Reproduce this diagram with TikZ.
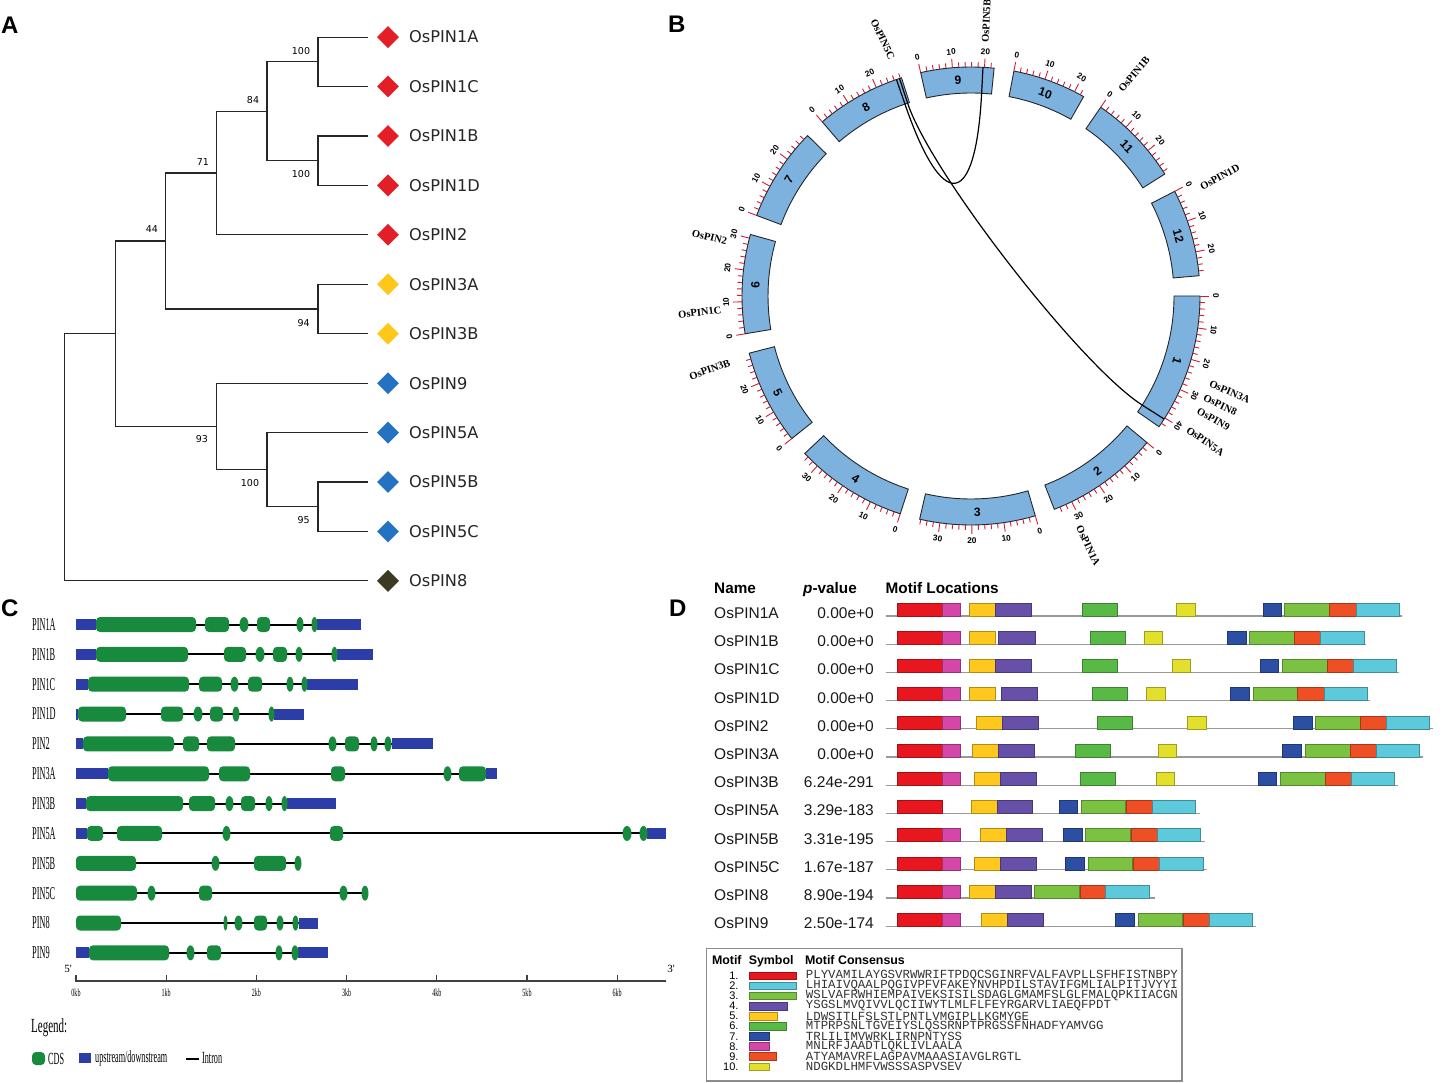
\documentclass[tikz,border=0pt]{standalone}
\usepackage{fontspec}
\usepackage{graphicx}
\setmainfont{Liberation Serif}
\newfontfamily\dejavu{DejaVu Sans}
\newfontfamily\arial{Liberation Sans}
\newfontfamily\cour{Liberation Mono}
\newfontfamily\tnr{Liberation Serif}
\usetikzlibrary{shapes.geometric}
\definecolor{tRed}{HTML}{E41E26}
\definecolor{tGold}{HTML}{FFC719}
\definecolor{tBlue}{HTML}{2473C2}
\definecolor{tOlive}{HTML}{3C3A20}
\definecolor{chrFill}{HTML}{7DB2DE}
\definecolor{tickRed}{HTML}{CC1F3A}
\definecolor{cdsGreen}{HTML}{188A3E}
\definecolor{utrBlue}{HTML}{2D3DA8}
\definecolor{mRed}{HTML}{E8161E}
\definecolor{mCyan}{HTML}{5CCADB}
\definecolor{mLime}{HTML}{7CC242}
\definecolor{mPurp}{HTML}{6650A8}
\definecolor{mGold}{HTML}{FFC81E}
\definecolor{mGreen}{HTML}{58B947}
\definecolor{mBlue}{HTML}{2C4EA3}
\definecolor{mMag}{HTML}{D447A8}
\definecolor{mOrg}{HTML}{EE4F24}
\definecolor{mYel}{HTML}{E2E02C}
\newcommand\cond[2]{\scalebox{#1}[1]{#2}}
\newcommand\generow[6]{%
  \pgfmathsetmacro\gy{624.5+29.85*#1}%
  \node[rowlab] (gr#1) at (32,\gy) {\cond{0.46}{#2}};
  \draw[intron] (#3,\gy) -- (#4,\gy);
  \foreach \xa/\xb in {#5}{\fill[utrBlue] (\xa,\gy-5.5) rectangle (\xb,\gy+5.5);}
  \foreach \xa/\xb in {#6}{%
    \pgfmathtruncatemacro\smallcds{(\xb-\xa)<11}%
    \ifnum\smallcds=1
      \fill[cdsGreen] ({(\xa+\xb)/2},\gy) ellipse [x radius={(\xb-\xa)/2+0.5}, y radius=7.5];
    \else
      \fill[cdsGreen, rounded corners=4pt] (\xa,\gy-7.5) rectangle (\xb,\gy+7.5);
    \fi}%
}
\newcommand\motifrow[5]{%
  \pgfmathsetmacro\ytop{603+28.2*#1}%
  \pgfmathsetmacro\ybot{\ytop+13}%
  \pgfmathsetmacro\ybase{618.5+28.2*#1}%
  \node[dname] (nm#1) at (714,\ybase) {#2};
  \node[dpval] (pv#1) at (874,\ybase) {#3};
  \draw[baseln] (885.5,\ybot) -- (#4,\ybot);
  \foreach \col/\xa/\xb in {#5}{\draw[mbox, fill=\col, draw=\col!70!black] (\xa,\ytop) rectangle (\xb,\ybot);}
}
\begin{document}
\begin{tikzpicture}[x=1pt,y=-1pt,
  treeln/.style={line width=1.1pt, draw=black!85},
  dia/.style={diamond, inner sep=0pt, minimum width=22pt, minimum height=22pt},
  leaflab/.style={anchor=west, inner sep=0pt, font=\dejavu\fontsize{16.2}{18}\selectfont, text=black!85},
  boot/.style={inner sep=0pt, font=\dejavu\fontsize{9.5}{11}\selectfont},
  plet/.style={anchor=base west, inner sep=0pt, font=\arial\bfseries\fontsize{24}{26}\selectfont},
  chrband/.style={fill=chrFill, draw=black!85, line width=0.9pt},
  tickln/.style={draw=tickRed, line width=0.9pt},
  ticklab/.style={inner sep=0pt, font=\arial\bfseries\fontsize{8.3}{9}\selectfont},
  chrlab/.style={inner sep=0pt, font=\arial\bfseries\fontsize{12}{13}\selectfont},
  glabel/.style={inner sep=0pt, font=\tnr\bfseries\fontsize{10.5}{12}\selectfont},
  lnk/.style={draw=black, line width=1.2pt},
  rowlab/.style={anchor=west, inner sep=0pt, font=\tnr\fontsize{18}{20}\selectfont},
  intron/.style={draw=black, line width=2pt},
  axisln/.style={draw=black!75, line width=1.2pt},
  kblab/.style={inner sep=0pt, font=\tnr\fontsize{11}{12}\selectfont},
  clab/.style={anchor=west, inner sep=0pt, font=\tnr\fontsize{17}{19}\selectfont},
  dhead/.style={anchor=base west, inner sep=0pt, font=\arial\bfseries\fontsize{15.3}{17}\selectfont},
  dname/.style={anchor=base west, inner sep=0pt, font=\arial\fontsize{15.5}{17}\selectfont, text=black!90},
  dpval/.style={anchor=base east, inner sep=0pt, font=\arial\fontsize{15.5}{17}\selectfont, text=black!90},
  baseln/.style={draw=black!40, line width=1.3pt},
  mbox/.style={line width=0.6pt},
  legbox/.style={draw=black!45, line width=1.2pt},
  lhead/.style={anchor=base west, inner sep=0pt, font=\arial\bfseries\fontsize{12.4}{14}\selectfont},
  lnum/.style={anchor=east, inner sep=0pt, font=\arial\fontsize{11}{12}\selectfont},
  lcons/.style={anchor=west, inner sep=0pt, font=\cour\fontsize{12.4}{13}\selectfont, text=black!80}]
\path[use as bounding box] (0,0) rectangle (1443,1083);
\fill[white] (0,0) rectangle (1443,1083);

% panel letters
\node[plet] (LA) at (1,34) {A};
\node[plet] (LB) at (668,33) {B};
\node[plet] (LC) at (1,616.5) {C};
\node[plet] (LD) at (669,616.5) {D};

% ---------------- Panel A : tree
\foreach \n/\y in {1A/37.1, 1C/86.5, 1B/136, 1D/185.4, 2/234.8, 3A/284.3, 3B/333.7, 9/383.2, 5A/432.6, 5B/482, 5C/531.5, 8/580.9}
  \coordinate (l\n) at (368,\y);
\coordinate (nA) at (318,61.8);
\coordinate (nB) at (318,160.7);
\coordinate (n84) at (267,111.25);
\coordinate (n71) at (216.7,173);
\coordinate (n94) at (318,309);
\coordinate (n44) at (165.7,241);
\coordinate (n95) at (318,506.75);
\coordinate (n100c) at (267,469.7);
\coordinate (n93) at (216.7,426.4);
\coordinate (nIn) at (115.3,333.7);
\coordinate (nRoot) at (64.3,457.3);
\draw[treeln] (nA) |- (l1A) (nA) |- (l1C)
  (nB) |- (l1B) (nB) |- (l1D)
  (n84) |- (nA) (n84) |- (nB)
  (n71) |- (n84) (n71) |- (l2)
  (n94) |- (l3A) (n94) |- (l3B)
  (n44) |- (n71) (n44) |- (n94)
  (n95) |- (l5B) (n95) |- (l5C)
  (n100c) |- (l5A) (n100c) |- (n95)
  (n93) |- (l9) (n93) |- (n100c)
  (nIn) |- (n44) (nIn) |- (n93)
  (nRoot) |- (nIn) (nRoot) |- (l8);
\foreach \n/\y/\c in {1A/37.1/tRed, 1C/86.5/tRed, 1B/136/tRed, 1D/185.4/tRed, 2/234.8/tRed, 3A/284.3/tGold, 3B/333.7/tGold, 9/383.2/tBlue, 5A/432.6/tBlue, 5B/482/tBlue, 5C/531.5/tBlue, 8/580.9/tOlive}{
  \node[dia, fill=\c] (d\n) at (388,\y) {};
  \node[leaflab] (t\n) at (409,\y) {OsPIN\n};
}
\node[boot] (b1) at (301,50.9) {100};
\node[boot] (b2) at (253,100.3) {84};
\node[boot] (b3) at (301,174.5) {100};
\node[boot] (b4) at (203,161.9) {71};
\node[boot] (b5) at (152,228.9) {44};
\node[boot] (b6) at (303.7,322.6) {94};
\node[boot] (b7) at (202,439.3) {93};
\node[boot] (b8) at (250,483) {100};
\node[boot] (b9) at (303.7,520.5) {95};

% ---------------- Panel B : circos
\begin{scope}[shift={(971,296)}]
\foreach \c/\s/\L/\f in {1/0/43.3/0, 2/39.8/35.9/1, 3/73.7/36.4/1, 4/108/35.5/1, 5/141.5/29.9/1, 6/170.5/31.2/0, 7/200.6/29.7/0, 8/229.5/28.4/0, 9/257.3/23.0/0, 10/280.8/23.2/0, 11/304.5/29.0/0, 12/332.8/27.5/0}{
  \pgfmathsetmacro\chE{\s+\L*0.804}
  \pgfmathsetmacro\chM{(\s+\chE)/2}
  \pgfmathsetmacro\chR{\f==1 ? 90-\chM : -\chM-90}
  \draw[chrband] (\s:203) arc[start angle=\s, end angle=\chE, radius=203] -- (\chE:229) arc[start angle=\chE, end angle=\s, radius=229] -- cycle;
  \node[chrlab, rotate=\chR] (chr\c) at (\chM:216) {\c};
  \pgfmathtruncatemacro\Lm{2*floor(\L/2)}
  \foreach \m in {0,2,...,\Lm}{
    \pgfmathsetmacro\tkA{\s+\m*0.804}
    \pgfmathtruncatemacro\maj{mod(\m,10)==0 ? 1 : 0}
    \ifnum\maj=1
      \draw[tickln] (\tkA:229) -- (\tkA:238);
      \pgfmathsetmacro\tkR{\f==1 ? 90-\tkA : -\tkA-90}
      \node[ticklab, rotate=\tkR] (tk\c-\m) at (\tkA:245) {\m};
    \else
      \draw[tickln] (\tkA:229) -- (\tkA:234);
    \fi
  }
}
\coordinate (k8a) at (251:229);
\coordinate (k8b) at (251.8:229);
\coordinate (k9) at (273:229);
\coordinate (k1) at (32.5:229);
\draw[lnk] (k8a) -- (251:203) .. controls (251:87) and (273:87) .. (273:203) -- (k9);
\draw[lnk] (k8b) -- (251.8:203) .. controls (251.8:130) and (32.5:130) .. (32.5:203) -- (k1);
\foreach \nm/\p/\d in {OsPIN5B/273.2/273, OsPIN1B/306/310, OsPIN1D/334.8/331, OsPIN3A/20/23.7, OsPIN8/23.5/25.5, OsPIN9/26.8/28.8, OsPIN5A/31.6/34.7, OsPIN1A/64.9/64.3}
  \node[glabel, anchor=west, rotate=-\d] (gl\nm) at (\p:254) {\nm};
\foreach \nm/\p/\d in {OsPIN5C/251.6/64.5, OsPIN2/192.6/13.5, OsPIN1C/176.8/-6.6, OsPIN3B/164.6/-19.8}
  \node[glabel, anchor=east, rotate=-\d] (gl\nm) at (\p:250) {\nm};
\end{scope}

% ---------------- Panel C : gene structures
\generow{0}{PIN1A}{76}{361}{76/96, 317/361}{96/196, 205/229, 240/248, 257/270, 297/303, 312/317}
\generow{1}{PIN1B}{76}{373}{76/96, 337/373}{96/188, 224/246, 256/264, 273/287, 296/302, 332/337}
\generow{2}{PIN1C}{76}{358}{76/88, 307/358}{88/189, 199/222, 231/238, 248/262, 287/293, 302/307}
\generow{3}{PIN1D}{76}{304}{76/78, 274/304}{78/126, 161/183, 194/202, 210/223, 233/239, 269/274}
\generow{4}{PIN2}{76}{433}{76/83, 392/433}{83/174, 183/199, 207/235, 329/336, 345/359, 371/377, 385/391}
\generow{5}{PIN3A}{76}{497}{76/108, 486/497}{108/209, 219/250, 331/345, 444/451, 459/486}
\generow{6}{PIN3B}{76}{336}{76/86, 287/336}{86/183, 189/215, 226/233, 241/255, 266/272, 282/287}
\generow{7}{PIN5A}{76}{666}{76/87, 647/666}{87/103, 117/162, 223/230, 330/343, 623/631, 640/647}
\generow{8}{PIN5B}{76}{301}{76/76}{76/136, 212/219, 254/286, 295/301}
\generow{9}{PIN5C}{76}{368}{76/76}{76/137, 148/155, 199/212, 340/347, 362/368}
\generow{10}{PIN8}{76}{318}{299/318}{76/121, 224/227, 235/242, 254/267, 277/283, 293/298}
\generow{11}{PIN9}{76}{328}{76/89, 298/328}{89/169, 187/194, 207/221, 276/282, 292/298}
\draw[axisln] (76,981) -- (666,981);
\foreach \k in {0,...,6}{
  \draw[axisln] ({76+90.2*\k},975) -- ({76+90.2*\k},982);
  \node[kblab] (kb\k) at ({76+90.2*\k},993) {\cond{0.55}{\k kb}};
}
\node[kblab] (p5) at (68,969) {5'};
\node[kblab] (p3) at (671,969) {3'};
\node[clab, font=\tnr\fontsize{20}{22}\selectfont] (legC) at (31,1028) {\cond{0.55}{Legend:}};
\fill[cdsGreen, rounded corners=4pt] (32,1052) rectangle (45,1065);
\node[clab] (legCDS) at (48,1058.5) {\cond{0.48}{CDS}};
\fill[utrBlue] (79,1053) rectangle (91,1063);
\node[clab] (legUTR) at (95,1058.5) {\cond{0.48}{upstream/downstream}};
\draw[intron] (186,1058.5) -- (199,1058.5);
\node[clab] (legInt) at (202,1058.5) {\cond{0.48}{Intron}};

% ---------------- Panel D : motifs
\node[dhead] (hName) at (714,593) {Name};
\node[dhead] (hPv) at (803,593) {\itshape p\upshape -value};
\node[dhead] (hML) at (885.5,593) {Motif Locations};
\motifrow{0}{OsPIN1A}{0.00e+0}{1402}{mRed/897/942, mMag/942/960, mGold/969.5/995.4, mPurp/995.4/1030.8, mGreen/1081.8/1117.2, mYel/1176.6/1195, mBlue/1263/1281, mLime/1284.7/1329.5, mOrg/1329.5/1356, mCyan/1356/1399.4}
\motifrow{1}{OsPIN1B}{0.00e+0}{1366}{mRed/897/942, mMag/942/960, mGold/969.5/995.4, mPurp/998.3/1035, mGreen/1089.8/1125.2, mYel/1144/1162.5, mBlue/1227/1246, mLime/1248.8/1294, mOrg/1294/1320.6, mCyan/1320.6/1364}
\motifrow{2}{OsPIN1C}{0.00e+0}{1399}{mRed/897/942, mMag/942/960, mGold/969.5/995.4, mPurp/995.4/1030.8, mGreen/1081.8/1117.2, mYel/1172/1190, mBlue/1260/1278.6, mLime/1282/1327, mOrg/1327/1353.6, mCyan/1353.6/1396.6}
\motifrow{3}{OsPIN1D}{0.00e+0}{1370}{mRed/897/942, mMag/942/960, mGold/969.5/995.4, mPurp/1001/1037.4, mGreen/1092.6/1127.6, mYel/1146.4/1164.8, mBlue/1230/1248.8, mLime/1253/1297.5, mOrg/1297.5/1324, mCyan/1324/1366.8}
\motifrow{4}{OsPIN2}{0.00e+0}{1433}{mRed/897/942, mMag/942/960, mGold/976.5/1002.5, mPurp/1002.5/1038, mGreen/1097/1131.8, mYel/1187.5/1206, mBlue/1293/1312, mLime/1315.4/1360.7, mOrg/1360.7/1386.6, mCyan/1386.6/1429.6}
\motifrow{5}{OsPIN3A}{0.00e+0}{1422.5}{mRed/897/942, mMag/942/960, mGold/971.8/997.8, mPurp/997.8/1034, mGreen/1075/1110, mYel/1157.8/1176, mBlue/1282.4/1301, mLime/1305/1349.8, mOrg/1349.8/1375.8, mCyan/1375.8/1419}
\motifrow{6}{OsPIN3B}{6.24e-291}{1398}{mRed/897/942, mMag/942/960, mGold/974.7/1000.6, mPurp/1000.6/1036, mGreen/1080/1114.8, mYel/1155.9/1174.3, mBlue/1257.8/1276.7, mLime/1280.5/1324.8, mOrg/1324.8/1351.2, mCyan/1351.2/1394.6}
\motifrow{7}{OsPIN5A}{3.29e-183}{1200}{mRed/897/942, mGold/970.9/996.8, mPurp/996.8/1032.7, mBlue/1059/1077.5, mLime/1080.8/1125.7, mOrg/1126.6/1152.6, mCyan/1152.6/1195.5}
\motifrow{8}{OsPIN5B}{3.31e-195}{1205}{mRed/897/942, mMag/942/960, mGold/980.3/1006.3, mPurp/1006.3/1042.6, mBlue/1063/1081.8, mLime/1085.6/1130, mOrg/1130.9/1156.8, mCyan/1156.8/1200.2}
\motifrow{9}{OsPIN5C}{1.67e-187}{1207}{mRed/897/942, mMag/942/960, mGold/974.7/1000.6, mPurp/1000.6/1036.5, mBlue/1065.7/1084.6, mLime/1088/1131.8, mOrg/1133.7/1159.6, mCyan/1159.6/1203}
\motifrow{10}{OsPIN8}{8.90e-194}{1155}{mRed/897/942, mMag/942/960, mGold/969.5/995.4, mPurp/995.4/1031.3, mLime/1034/1079, mOrg/1080/1105.4, mCyan/1105.4/1148.8}
\motifrow{11}{OsPIN9}{2.50e-174}{1255.5}{mRed/897/942, mMag/942/960, mGold/981.7/1007.7, mPurp/1007.7/1043.6, mBlue/1115.3/1134.2, mLime/1138/1182.3, mOrg/1183.2/1209.2, mCyan/1209.2/1252.6}

% motif legend box
\draw[legbox] (706.6,948.3) rectangle (1182,1081);
\node[lhead] (lh1) at (711.8,964.3) {Motif};
\node[lhead] (lh2) at (748.6,964.3) {Symbol};
\node[lhead] (lh3) at (804.8,964.3) {Motif Consensus};
\foreach \i/\w/\col/\txt in {1/46.8/mRed/PLYVAMILAYGSVRWWRIFTPDQCSGINRFVALFAVPLLSFHFISTNBPY, 2/46.8/mCyan/LHIAIVQAALPQGIVPFVFAKEYNVHPDILSTAVIFGMLIALPITJVYYI, 3/46.8/mLime/WSLVAFRWHIEMPAIVEKSISILSDAGLGMAMFSLGLFMALQPKIIACGN, 4/38.3/mPurp/YSGSLMVQIVVLQCIIWYTLMLFLFEYRGARVLIAEQFPDT, 5/28/mGold/LDWSITLFSLSTLPNTLVMGIPLLKGMYGE, 6/37/mGreen/MTPRPSNLTGVEIYSLQSSRNPTPRGSSFNHADFYAMVGG, 7/20/mBlue/TRLILIMVWRKLIRNPNTYSS, 8/20/mMag/MNLRFJAADTLQKLIVLAALA, 9/27/mOrg/ATYAMAVRFLAGPAVMAAASIAVGLRGTL, 10/20/mYel/NDGKDLHMFVWSSSASPVSEV}{
  \pgfmathsetmacro\yy{975.7+10.1*(\i-1)}
  \node[lnum] (ln\i) at (738.7,\yy) {\i.};
  \draw[mbox, fill=\col, draw=\col!70!black] (749,\yy-3.8) rectangle ({749+\w},\yy+3.8);
  \node[lcons] (lc\i) at (805.7,\yy) {\txt};
}
\end{tikzpicture}
\end{document}
